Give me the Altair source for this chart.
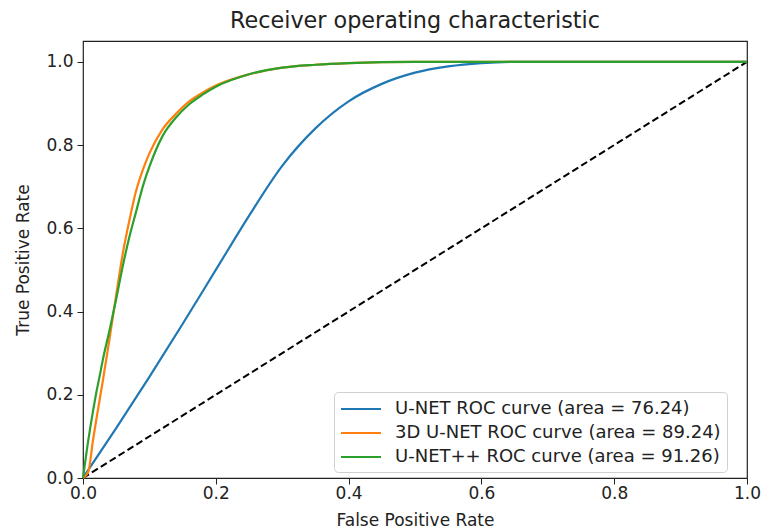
import altair as alt
import pandas as pd

series_names = ["U-NET ROC curve (area = 76.24)",
                "3D U-NET ROC curve (area = 89.24)",
                "U-NET++ ROC curve (area = 91.26)"]
series_colors = ["#1f77b4", "#ff7f0e", "#2ca02c"]

unet_fpr = [0, 0.05, 0.1, 0.15, 0.2, 0.25, 0.3, 0.35, 0.4, 0.45, 0.5, 0.55, 0.6, 0.65, 0.7, 0.8, 1.0]
unet_tpr = [0, 0.12, 0.243, 0.37, 0.5, 0.63, 0.75, 0.84, 0.905, 0.947, 0.974, 0.989, 0.997, 1.0, 1.0, 1.0, 1.0]

unet3d_fpr = [0, 0.008, 0.015, 0.02, 0.03, 0.04, 0.05, 0.06, 0.07, 0.08, 0.09, 0.1, 0.12, 0.14,
              0.16, 0.18, 0.2, 0.25, 0.3, 0.35, 0.4, 0.5, 1.0]
unet3d_tpr = [0, 0.015, 0.09, 0.14, 0.235, 0.335, 0.44, 0.54, 0.62, 0.69, 0.74, 0.78, 0.838, 0.875,
              0.905, 0.926, 0.943, 0.97, 0.986, 0.993, 0.997, 1.0, 1.0]

unetpp_fpr = [0, 0.008, 0.015, 0.02, 0.026, 0.03, 0.04, 0.05, 0.06, 0.07, 0.08, 0.09, 0.1, 0.12, 0.14,
              0.16, 0.18, 0.2, 0.25, 0.3, 0.35, 0.4, 0.5, 1.0]
unetpp_tpr = [0, 0.091, 0.16, 0.205, 0.252, 0.285, 0.355, 0.43, 0.51, 0.58, 0.64, 0.70, 0.748, 0.822, 0.866,
              0.898, 0.921, 0.94, 0.97, 0.986, 0.993, 0.997, 1.0, 1.0]

diag_fpr = [0, 1]
diag_tpr = [0, 1]

rows = []
for name, xs, ys in zip(series_names,
                        [unet_fpr, unet3d_fpr, unetpp_fpr],
                        [unet_tpr, unet3d_tpr, unetpp_tpr]):
    for i, (x, y) in enumerate(zip(xs, ys)):
        rows.append({"model": name, "fpr": x, "tpr": y, "i": i})
df = pd.DataFrame(rows)
diag = pd.DataFrame({"fpr": diag_fpr, "tpr": diag_tpr})

FONT = "DejaVu Sans"

x_enc = alt.X("fpr:Q", scale=alt.Scale(domain=[0, 1], nice=False, zero=False),
              axis=alt.Axis(title="False Positive Rate", values=[0, 0.2, 0.4, 0.6, 0.8, 1.0],
                            format=".1f", grid=False, domain=False, tickSize=6, labelFlush=False,
                            tickColor="#222", labelPadding=1, titlePadding=11))
y_enc = alt.Y("tpr:Q", scale=alt.Scale(domain=[0, 1.05], nice=False, zero=False),
              axis=alt.Axis(title="True Positive Rate", values=[0, 0.2, 0.4, 0.6, 0.8, 1.0],
                            format=".1f", grid=False, domain=False, tickSize=6, labelFlush=False,
                            tickColor="#222", labelPadding=4, titlePadding=13))

curves = alt.Chart(df).mark_line(strokeWidth=2.2, interpolate="monotone").encode(
    x=x_enc, y=y_enc,
    color=alt.Color("model:N",
                    scale=alt.Scale(domain=series_names, range=series_colors),
                    legend=alt.Legend(title=None, orient="none", legendX=251, legendY=351,
                                      symbolType="M-1,0H3", symbolSize=400, symbolStrokeWidth=2,
                                      labelFontSize=18, labelFont=FONT, labelColor="#222",
                                      rowPadding=4, padding=6, labelOffset=33,
                                      fillColor="white", strokeColor="#d0d0d0",
                                      cornerRadius=4, labelLimit=500)),
    order="i:Q",
)

diag_line = alt.Chart(diag).mark_line(color="black", strokeWidth=2, strokeDash=[7, 3.5]).encode(
    x="fpr:Q", y="tpr:Q")

chart = alt.layer(diag_line, curves).properties(
    width=664, height=437,
    title=alt.TitleParams("Receiver operating characteristic", fontSize=22.3, font=FONT,
                          fontWeight="normal", color="#222", offset=9),
    autosize=alt.AutoSizeParams(type="none"),
    padding={"left": 83, "top": 41, "right": 15, "bottom": 52},
).configure(background="white").configure_view(stroke="#222", strokeWidth=1.2).configure_axis(
    labelFont=FONT, titleFont=FONT, labelFontSize=17, titleFontSize=17,
    labelColor="#222", titleColor="#222", titleFontWeight="normal",
)

chart.save("out.html", embed_options={"renderer": "svg", "actions": False})
